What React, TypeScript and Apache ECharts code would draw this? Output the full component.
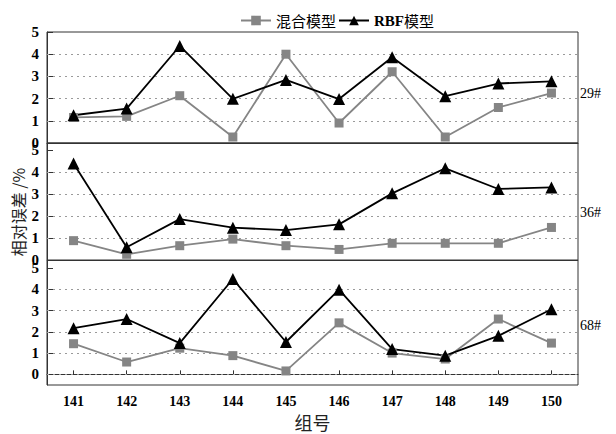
import React, { useEffect, useRef } from "react";
import * as echarts from "echarts";

const categories = ["141", "142", "143", "144", "145", "146", "147", "148", "149", "150"];
const mixed29 = [1.15, 1.2, 2.13, 0.27, 4.0, 0.9, 3.21, 0.27, 1.6, 2.25];
const rbf29 = [1.25, 1.55, 4.37, 1.99, 2.84, 1.98, 3.86, 2.11, 2.68, 2.78];
const mixed36 = [0.88, 0.26, 0.65, 0.95, 0.65, 0.48, 0.76, 0.76, 0.76, 1.48];
const rbf36 = [4.39, 0.58, 1.86, 1.47, 1.36, 1.62, 3.03, 4.17, 3.23, 3.3];
const mixed68 = [1.44, 0.58, 1.23, 0.88, 0.16, 2.42, 1.0, 0.72, 2.6, 1.47];
const rbf68 = [2.17, 2.6, 1.47, 4.48, 1.52, 3.98, 1.19, 0.88, 1.81, 3.06];
const yTicks = [0, 1, 2, 3, 4, 5];
const gridValuesTop = [1, 2, 3, 4];
const gridValuesBottom = [0, 1, 2, 3, 4];
const panelNames = ["29#", "36#", "68#"];
const seriesNames = ["混合模型", "RBF模型"];

const SERIF = "'Liberation Serif', 'DejaVu Serif', serif";
const CJK = "'Noto Sans CJK SC', sans-serif";
const GRAY = "#858585";

export default function App() {
  const ref = useRef<HTMLDivElement>(null);
  useEffect(() => {
    if (!ref.current) return;
    const chart = echarts.init(ref.current, null, { renderer: "svg" });
    const grids = [
      { left: 47, right: 38, top: 32, height: 111 },
      { left: 47, right: 38, top: 143, height: 117 },
      { left: 47, right: 38, top: 260.5, height: 124.5 },
    ].map((g) => ({ ...g, show: true, borderColor: "#333", borderWidth: 1, backgroundColor: "transparent" }));
    const ranges = [
      [0, 5],
      [0, 5.32],
      [-0.5, 5.35],
    ];
    const xAxes = [0, 1, 2].map((i) => ({
      type: "category",
      gridIndex: i,
      data: categories,
      boundaryGap: true,
      axisLine: { show: true, lineStyle: { color: "#333", width: 1 } },
      axisTick: { show: i === 2, inside: true, length: 4, alignWithLabel: true, lineStyle: { color: "#333" } },
      axisLabel: {
        show: i === 2,
        color: "#000",
        fontFamily: SERIF,
        fontWeight: "bold",
        fontSize: 14,
        margin: 9,
      },
      name: i === 2 ? "组号" : "",
      nameLocation: "middle",
      nameGap: 28,
      nameTextStyle: { fontFamily: CJK, fontSize: 18, color: "#222" },
      splitLine: { show: false },
    }));
    const yAxes = [0, 1, 2].map((i) => ({
      type: "value",
      gridIndex: i,
      min: ranges[i][0],
      max: ranges[i][1],
      axisLine: { show: true, lineStyle: { color: "#333", width: 1 } },
      axisTick: { show: true, inside: true, length: 6, customValues: yTicks, lineStyle: { color: "#333" } },
      axisLabel: {
        customValues: yTicks,
        color: "#000",
        fontFamily: SERIF,
        fontWeight: "bold",
        fontSize: 15,
        margin: 8,
        formatter: (v: number) => (Number.isInteger(v) ? String(v) : ""),
      },
      splitLine: { show: false },
    }));
    const mixedData = [mixed29, mixed36, mixed68];
    const rbfData = [rbf29, rbf36, rbf68];
    const series: any[] = [];
    [0, 1, 2].forEach((i) => {
      const gv = i === 2 ? gridValuesBottom : gridValuesTop;
      series.push({
        type: "line",
        name: seriesNames[0],
        xAxisIndex: i,
        yAxisIndex: i,
        data: mixedData[i],
        symbol: "rect",
        symbolSize: 9,
        lineStyle: { color: GRAY, width: 1.8 },
        itemStyle: { color: GRAY },
        markLine: {
          silent: true,
          symbol: "none",
          label: { show: false },
          lineStyle: { color: "#9a9a9a", type: [2, 4], width: 1 },
          data: gv.map((v) => ({ yAxis: v })),
          z: 1,
        },
      });
      series.push({
        type: "line",
        name: seriesNames[1],
        xAxisIndex: i,
        yAxisIndex: i,
        data: rbfData[i],
        symbol: "triangle",
        symbolSize: 12,
        lineStyle: { color: "#000", width: 1.8 },
        itemStyle: { color: "#000" },
      });
    });
    chart.setOption({
      animation: false,
      backgroundColor: "#fff",
      legend: {
        data: seriesNames,
        left: 235,
        top: 8,
        itemWidth: 30,
        itemHeight: 12,
        itemGap: 2,
        formatter: (name: string) => (name === "RBF模型" ? "{b|RBF}{c|模型}" : "{c|" + name + "}"),
        textStyle: {
          rich: {
            b: { fontFamily: SERIF, fontWeight: "bold", fontSize: 15, color: "#000" },
            c: { fontFamily: CJK, fontSize: 15, color: "#000" },
          },
        },
      },
      grid: grids,
      xAxis: xAxes,
      yAxis: yAxes,
      series,
      graphic: [
        ...panelNames.map((t, k) => ({
          type: "text",
          left: 580,
          top: [86, 205, 318][k],
          style: { text: t, fontFamily: SERIF, fontSize: 14, fill: "#000" },
        })),
        {
          type: "text",
          x: 18,
          y: 212,
          rotation: Math.PI / 2,
          style: {
            text: "相对误差 /%",
            fontFamily: CJK,
            fontSize: 16,
            fill: "#222",
            textAlign: "center",
            textVerticalAlign: "middle",
          },
        },
      ],
    });
    return () => chart.dispose();
  }, []);
  return <div ref={ref} style={{ position: "fixed", left: 0, top: 0, width: 616, height: 434 }} />;
}
